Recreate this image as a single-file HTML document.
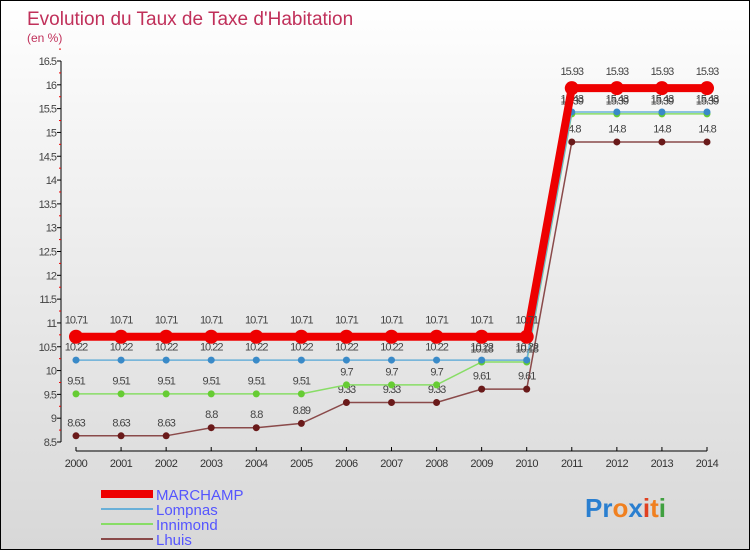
<!DOCTYPE html>
<html><head><meta charset="utf-8"><style>
body{margin:0}
#wrap{width:748px;height:548px;border:1px solid #000;position:relative;background:linear-gradient(#fff,#f6f6f6 20%,#d8d8d8);font-family:"Liberation Sans",sans-serif;overflow:hidden}
</style></head><body>
<div id="wrap">
<svg id="svg" width="748" height="548">
<text x="26" y="24" font-size="19" fill="#c0305a">Evolution du Taux de Taxe d'Habitation</text>
<text x="26" y="41" font-size="12" fill="#c0305a">(en %)</text>
<g id="legend">
<rect x="100" y="489" width="52" height="8" fill="#e00"/>
<text x="155" y="499" font-size="15" fill="#55f">MARCHAMP</text>
<line x1="100" y1="508" x2="152" y2="508" stroke="#6ab0d8" stroke-width="2"/>
<text x="155" y="514" font-size="15" fill="#55f">Lompnas</text>
<line x1="100" y1="523" x2="152" y2="523" stroke="#88dd66" stroke-width="2"/>
<text x="155" y="529" font-size="15" fill="#55f">Innimond</text>
<line x1="100" y1="538" x2="152" y2="538" stroke="#8a4a4a" stroke-width="2"/>
<text x="155" y="544" font-size="15" fill="#55f">Lhuis</text>
</g>
<text x="584" y="516" font-size="26" font-weight="bold"><tspan fill="#2a7fd0">Pr</tspan><tspan fill="#f08020">o</tspan><tspan fill="#2a7fd0">x</tspan><tspan fill="#e04020">i</tspan><tspan fill="#f08020">t</tspan><tspan fill="#40a040">i</tspan></text>
</svg>
</div>
<script>
const years=[2000,2001,2002,2003,2004,2005,2006,2007,2008,2009,2010,2011,2012,2013,2014];
const marchamp=[10.71,10.71,10.71,10.71,10.71,10.71,10.71,10.71,10.71,10.71,10.71,15.93,15.93,15.93,15.93];
const lompnas=[10.22,10.22,10.22,10.22,10.22,10.22,10.22,10.22,10.22,10.22,10.22,15.43,15.43,15.43,15.43];
const innimond=[9.51,9.51,9.51,9.51,9.51,9.51,9.7,9.7,9.7,10.18,10.18,15.39,15.39,15.39,15.39];
const lhuis=[8.63,8.63,8.63,8.8,8.8,8.89,9.33,9.33,9.33,9.61,9.61,14.8,14.8,14.8,14.8];
const yTicks=[8.5,9,9.5,10,10.5,11,11.5,12,12.5,13,13.5,14,14.5,15,15.5,16,16.5];
const svg=document.getElementById('svg');const NS='http://www.w3.org/2000/svg';
const x=i=>75+i*(706-75)/(years.length-1);
const y=v=>441-(v-8.5)*(441-60)/8;
function mk(t,a,p){const e=document.createElementNS(NS,t);for(const k in a)e.setAttribute(k,a[k]);(p||svg).appendChild(e);return e;}
const ax=mk('g',{});


let l=mk('line',{x1:60,y1:60,x2:60,y2:441,stroke:'#000'},ax);


yTicks.forEach(v=>{mk('line',{x1:56,y1:y(v),x2:60,y2:y(v),stroke:'#000'},ax);
 mk('line',{x1:58,y1:y(v+0.25),x2:60,y2:y(v+0.25),stroke:'#e00'},ax);
 const t=mk('text',{x:55,y:y(v)+4,'font-size':11,'text-anchor':'end',fill:'#444','letter-spacing':'-1'},ax);t.textContent=v;
 
 });
l=mk('line',{x1:75,y1:450,x2:706,y2:450,stroke:'#000'},ax);


years.forEach((yr,i)=>{mk('line',{x1:x(i),y1:446,x2:x(i),y2:450,stroke:'#000'},ax);
 const t=mk('text',{x:x(i),y:466,'font-size':11,'text-anchor':'middle',fill:'#333','letter-spacing':'-0.5'},ax);t.textContent=yr;
 
 });
function series(d,name,col,w,r,dot){const g=mk('g',{});
 
 
 mk('polyline',{points:d.map((v,i)=>x(i)+','+y(v)).join(' '),fill:'none',stroke:col,'stroke-width':w},g);
 d.forEach((v,i)=>{const c=mk('circle',{cx:x(i),cy:y(v),r:r,fill:dot},g);
  
  
  const t=mk('text',{x:x(i),y:y(v)-(r+6),'font-size':11,'text-anchor':'middle',fill:'#444','letter-spacing':'-1'},g);t.textContent=v;
  
  });}
series(lhuis,'lhuis','#8a4a4a',1.5,3.5,'#6a1a1a');
series(innimond,'innimond','#88dd66',1.5,3.5,'#66cc33');
series(lompnas,'lompnas','#6ab0d8',1.5,3.5,'#3a8ac8');
series(marchamp,'marchamp','#e00',8,7,'#e00');
</script>
</body></html>
